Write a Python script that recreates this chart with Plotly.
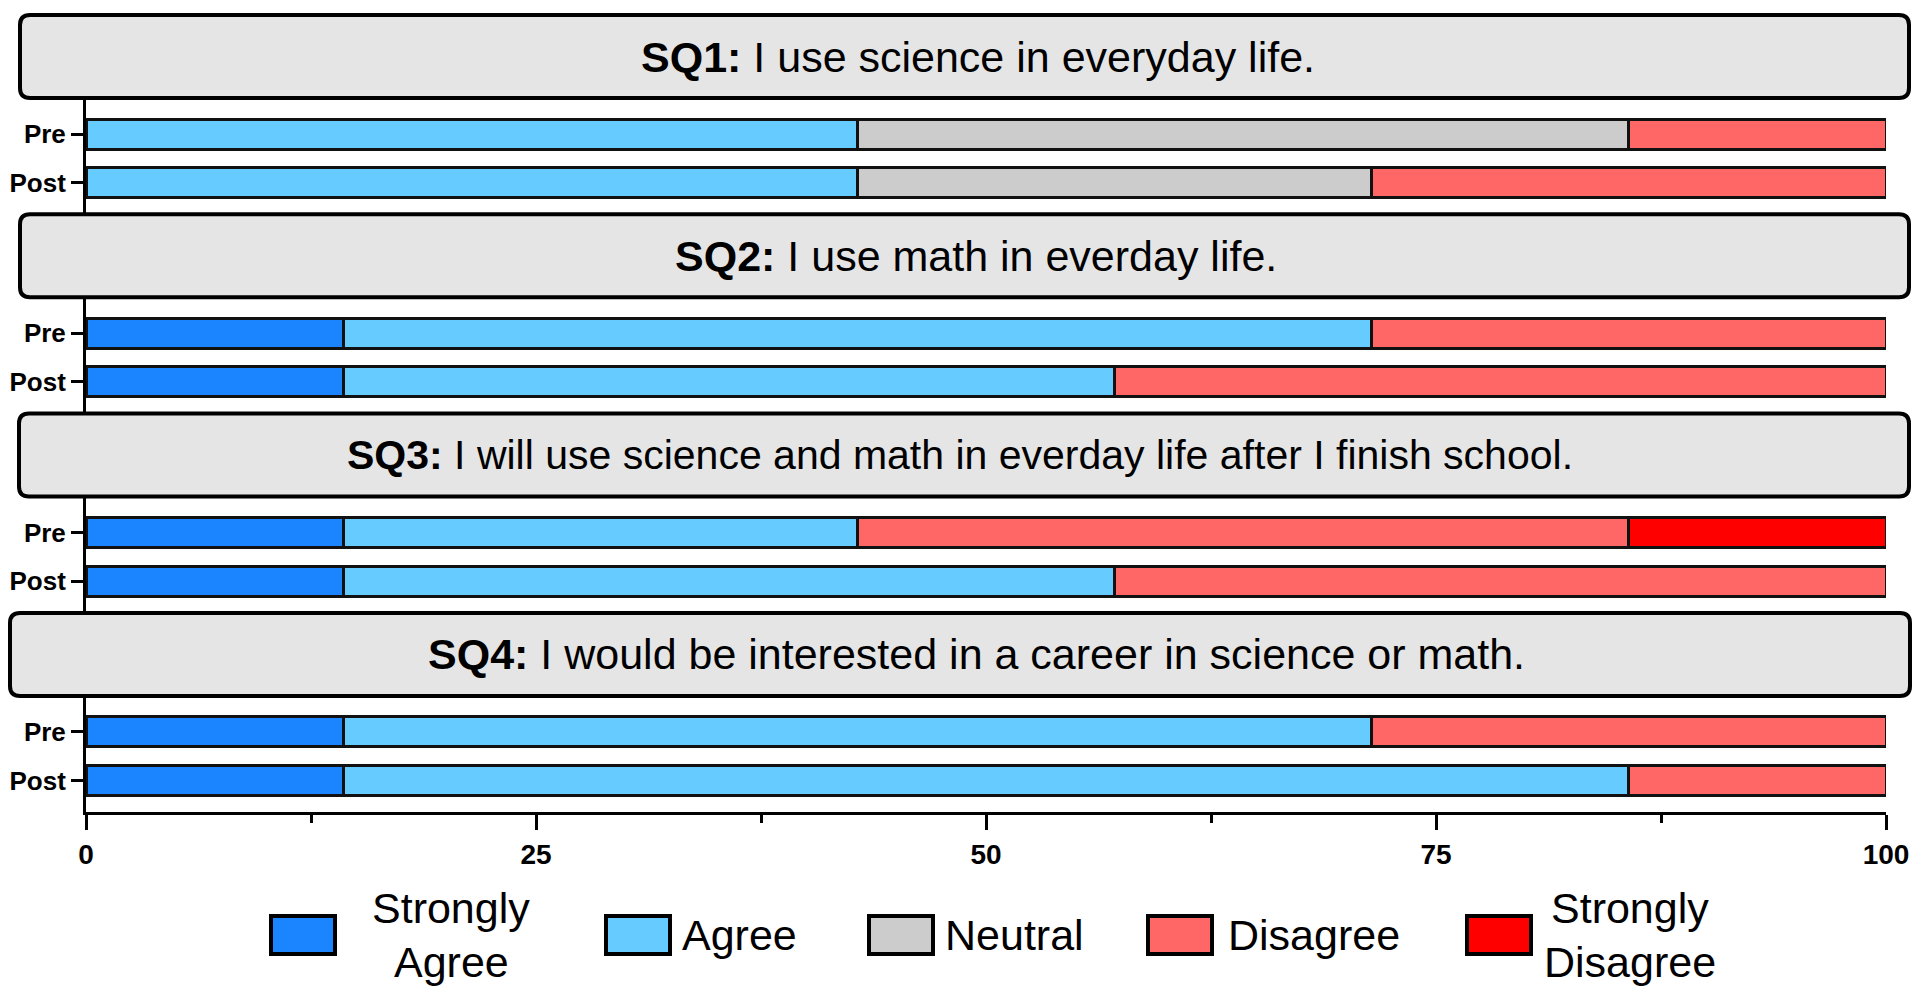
import plotly.graph_objects as go

# ---------------- data ----------------
questions = [
    ("SQ1:", "I use science in everyday life."),
    ("SQ2:", "I use math in everday life."),
    ("SQ3:", "I will use science and math in everday life after I finish school."),
    ("SQ4:", "I would be interested in a career in science or math."),
]
timepoints = ["Pre", "Post"]
categories = ["Strongly Agree", "Agree", "Neutral", "Disagree", "Strongly Disagree"]
legend_lines = [["Strongly", "Agree"], ["Agree"], ["Neutral"], ["Disagree"], ["Strongly", "Disagree"]]
colors = ["#1a85ff", "#66ccff", "#cccccc", "#ff6666", "#ff0000"]

# percentages, order: SQ1 Pre, SQ1 Post, SQ2 Pre, SQ2 Post, SQ3 Pre, SQ3 Post, SQ4 Pre, SQ4 Post
strongly_agree    = [0.00, 0.00, 14.29, 14.29, 14.29, 14.29, 14.29, 14.29]
agree             = [42.86, 42.86, 57.14, 42.86, 28.57, 42.86, 57.14, 71.43]
neutral           = [42.86, 28.57, 0.00, 0.00, 0.00, 0.00, 0.00, 0.00]
disagree          = [14.29, 28.57, 28.57, 42.86, 42.86, 42.86, 28.57, 14.29]
strongly_disagree = [0.00, 0.00, 0.00, 0.00, 14.29, 0.00, 0.00, 0.00]
series = [strongly_agree, agree, neutral, disagree, strongly_disagree]

x_ticks = [0, 25, 50, 75, 100]

# ---------------- layout geometry (viewport pixels) ----------------
OFF = 8              # default body margin of the html page
VW, VH = 1920, 993
FW, FH = VW - OFF, VH - OFF
L, R = 86, 1886      # plot area left/right (viewport px)
T, B = 60, 812       # plot area top/bottom (viewport px)
PW, PH = R - L, B - T

PANEL_PITCH = 199.3
FIRST_BAR = 134
BAR_GAP = 48.5
BAR_W = 30

def px2x(px):
    return (px - L) / PW

def px2y(py):
    return (B - py) / PH

bar_y = []
tick_text = []
for i in range(len(questions)):
    for j, tp in enumerate(timepoints):
        bar_y.append(FIRST_BAR + i * PANEL_PITCH + j * BAR_GAP)
        tick_text.append(tp)

fig = go.Figure()
for cat, vals, col in zip(categories, series, colors):
    fig.add_trace(go.Bar(
        y=bar_y,
        x=[v if v else None for v in vals],
        orientation="h",
        name=cat,
        width=BAR_W,
        marker=dict(color=col, line=dict(color="#111111", width=3)),
        showlegend=False,
    ))

# ---------------- header boxes ----------------
def rrect_path(x0, y0, x1, y1, r):
    pts = [
        ("M", (x0 + r, y0)), ("L", (x1 - r, y0)), ("Q", (x1, y0), (x1, y0 + r)),
        ("L", (x1, y1 - r)), ("Q", (x1, y1), (x1 - r, y1)),
        ("L", (x0 + r, y1)), ("Q", (x0, y1), (x0, y1 - r)),
        ("L", (x0, y0 + r)), ("Q", (x0, y0), (x0 + r, y0)),
    ]
    s = ""
    for item in pts:
        cmd = item[0]
        coords = " ".join(f"{px2x(p[0]):.6f},{px2y(p[1]):.6f}" for p in item[1:])
        s += f"{cmd} {coords} "
    return s + "Z"

FONT = "Liberation Sans, Arial, sans-serif"
shapes = []
annotations = []
box_left = [18, 18, 17, 8]
box_right = [1911, 1911, 1911, 1912]
title_cx = [978, 976, 960, 976]
title_size = [43, 43, 41, 43]
BOX_TOP0 = 13
BOX_H = 87
for i, (lead, rest) in enumerate(questions):
    top = BOX_TOP0 + i * PANEL_PITCH
    bot = top + BOX_H
    x0, x1 = box_left[i] + 2, box_right[i] - 2
    shapes.append(dict(
        type="path", xref="paper", yref="paper",
        path=rrect_path(x0, top + 2, x1, bot - 2, 10),
        fillcolor="#e5e5e5", line=dict(color="black", width=4), layer="above",
    ))
    annotations.append(dict(
        xref="paper", yref="paper", x=px2x(title_cx[i]), y=px2y((top + bot) / 2),
        xanchor="center", yanchor="middle", showarrow=False,
        text=f"<b>{lead}</b> {rest}",
        font=dict(size=title_size[i], color="black", family=FONT),
    ))

# ---------------- legend (drawn manually) ----------------
leg_sq_x = [269, 604, 867, 1146, 1465]
leg_txt = [(451, "center"), (680, "left"), (943, "left"), (1226, "left"), (1630, "center")]
LEG_Y0, LEG_Y1 = 914, 956
LEG_MID = 935
LINE_SP = 54
for k in range(len(categories)):
    sx = leg_sq_x[k]
    shapes.append(dict(
        type="rect", xref="paper", yref="paper",
        x0=px2x(sx + 2), x1=px2x(sx + 66), y0=px2y(LEG_Y0 + 2), y1=px2y(LEG_Y1 - 2),
        fillcolor=colors[k], line=dict(color="black", width=4), layer="above",
    ))
    tx, anc = leg_txt[k]
    lines = legend_lines[k]
    n = len(lines)
    for m, line in enumerate(lines):
        cy = LEG_MID + (m - (n - 1) / 2) * LINE_SP
        annotations.append(dict(
            xref="paper", yref="paper", x=px2x(tx), y=px2y(cy),
            xanchor=anc, yanchor="middle", showarrow=False,
            text=line,
            font=dict(size=43, color="black", family=FONT),
        ))

fig.update_layout(
    width=FW, height=FH,
    margin=dict(l=L - OFF, r=VW - R, t=T - OFF, b=VH - B, pad=0, autoexpand=False),
    paper_bgcolor="white", plot_bgcolor="white",
    barmode="stack",
    shapes=shapes,
    annotations=annotations,
    font=dict(family=FONT, color="black"),
    xaxis=dict(
        range=[0, 100], tickvals=x_ticks, ticktext=[str(t) for t in x_ticks],
        automargin=False,
        showgrid=False, zeroline=False,
        showline=True, linecolor="black", linewidth=3,
        ticks="outside", ticklen=15, tickwidth=3, tickcolor="black",
        tickfont=dict(size=28, weight="bold", color="black"),
        minor=dict(tickvals=[12.5, 37.5, 62.5, 87.5], ticks="outside", ticklen=8,
                   tickwidth=3, tickcolor="black"),
        fixedrange=True,
    ),
    yaxis=dict(
        range=[B, T], tickvals=bar_y, ticktext=tick_text,
        automargin=False,
        showgrid=False, zeroline=False,
        showline=True, linecolor="black", linewidth=3,
        ticks="outside", ticklen=12, tickwidth=3, tickcolor="black",
        tickfont=dict(size=26, weight="bold", color="black"),
        fixedrange=True,
    ),
)

fig.write_html("out.html")
